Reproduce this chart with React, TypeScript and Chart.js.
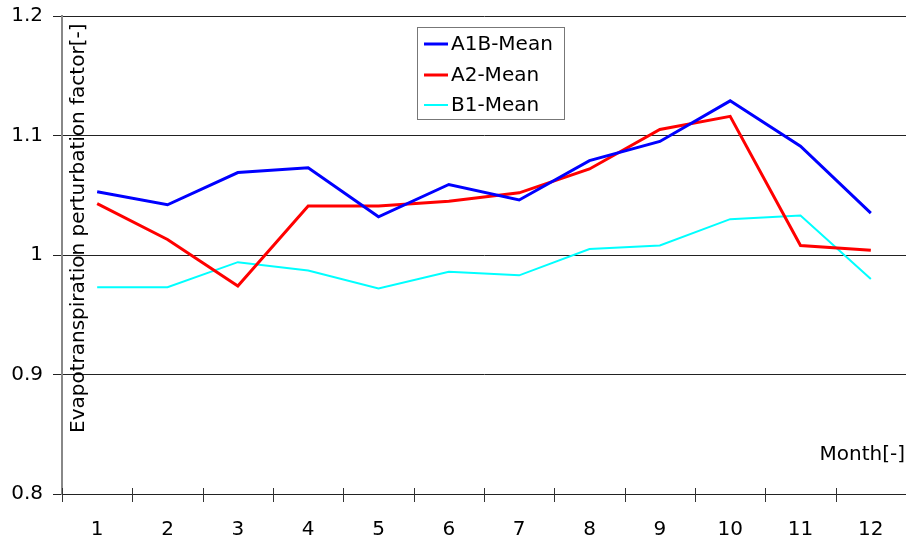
import React, { useEffect, useRef } from "react";
import { Chart, registerables } from "chart.js";

Chart.register(...registerables);

const months = ["1", "2", "3", "4", "5", "6", "7", "8", "9", "10", "11", "12"];
const a1bMean = [1.053, 1.042, 1.069, 1.073, 1.032, 1.059, 1.046, 1.079, 1.095, 1.129, 1.091, 1.035];
const a2Mean = [1.043, 1.013, 0.974, 1.041, 1.041, 1.045, 1.052, 1.072, 1.105, 1.116, 1.008, 1.004];
const b1Mean = [0.973, 0.973, 0.994, 0.987, 0.972, 0.986, 0.983, 1.005, 1.008, 1.03, 1.033, 0.98];
const seriesLabels = ["A1B-Mean", "A2-Mean", "B1-Mean"];
const seriesColors = ["#0000ff", "#ff0000", "#00ffff"];
const yTitle = "Evapotranspiration perturbation factor[-]";
const xTitle = "Month[-]";

const FONT = "'DejaVu Sans', sans-serif";
const FS = 20;

const overlay = {
  id: "overlay",
  afterDraw(chart: any) {
    const ctx = chart.ctx;
    const area = chart.chartArea;
    const xs = chart.scales.x;
    ctx.save();
    // x tick marks at category boundaries
    ctx.strokeStyle = "#333";
    ctx.lineWidth = 1;
    for (let i = 0; i <= months.length; i++) {
      const px = Math.round(xs.getPixelForValue(i - 0.5)) + 0.5;
      ctx.beginPath();
      ctx.moveTo(px, area.bottom - 6);
      ctx.lineTo(px, area.bottom + 8);
      ctx.stroke();
    }
    // titles
    ctx.fillStyle = "#000";
    ctx.font = `${FS}px ${FONT}`;
    ctx.save();
    ctx.translate(area.left + 17, 433);
    ctx.rotate(-Math.PI / 2);
    ctx.textAlign = "left";
    ctx.textBaseline = "middle";
    ctx.fillText(yTitle, 0, 0);
    ctx.restore();
    ctx.textAlign = "right";
    ctx.textBaseline = "middle";
    ctx.fillText(xTitle, area.right - 1, 455);
    // legend
    const bx = 417, by = 27, bw = 147, bh = 92;
    ctx.fillStyle = "#fff";
    ctx.fillRect(bx, by, bw, bh);
    ctx.strokeStyle = "#777";
    ctx.lineWidth = 1;
    ctx.strokeRect(bx + 0.5, by + 0.5, bw, bh);
    const rows = [44, 75, 105];
    chart.data.datasets.forEach((ds: any, i: number) => {
      ctx.strokeStyle = ds.borderColor;
      ctx.lineWidth = ds.borderWidth;
      ctx.beginPath();
      ctx.moveTo(424, rows[i]);
      ctx.lineTo(448, rows[i]);
      ctx.stroke();
      ctx.fillStyle = "#000";
      ctx.textAlign = "left";
      ctx.textBaseline = "middle";
      ctx.fillText(ds.label, 451, rows[i] + 1);
    });
    ctx.restore();
  },
};

export default function App() {
  const ref = useRef<HTMLCanvasElement>(null);
  useEffect(() => {
    document.body.style.margin = "0";
    const canvas = ref.current!;
    const chart = new Chart(canvas, {
      type: "line",
      data: {
        labels: months,
        datasets: [a1bMean, a2Mean, b1Mean].map((d, i) => ({
          label: seriesLabels[i],
          data: d,
          borderColor: seriesColors[i],
          backgroundColor: seriesColors[i],
          borderWidth: i === 2 ? 2 : 3,
          pointRadius: 0,
          tension: 0,
          fill: false,
        })),
      },
      options: {
        responsive: false,
        animation: false,
        devicePixelRatio: 1,
        layout: { padding: { top: 16, left: 0, right: 0, bottom: 0 } },
        plugins: { legend: { display: false }, tooltip: { enabled: false } },
        scales: {
          x: {
            type: "category",
            offset: true,
            grid: { display: true, drawOnChartArea: false, drawTicks: false, color: "transparent" },
            border: { display: true, color: "#222", width: 1 },
            ticks: { color: "#000", font: { family: FONT, size: FS }, padding: 24, maxRotation: 0, autoSkip: false },
            afterFit: (s: any) => { s.height = 47; s.paddingLeft = 0; s.paddingRight = 0; },
          },
          y: {
            min: 0.8,
            max: 1.2,
            grid: { color: "#222", lineWidth: 1, tickLength: 9, drawTicks: true },
            border: { display: true, color: "#888", width: 2 },
            ticks: {
              stepSize: 0.1,
              color: "#000",
              padding: 10,
              font: { family: FONT, size: FS },
              callback: (v: any) => String(Number(Number(v).toFixed(1))),
            },
            afterFit: (s: any) => { s.width = 62; s.paddingTop = 0; s.paddingBottom = 0; },
          },
        },
      },
      plugins: [overlay],
    });
    return () => chart.destroy();
  }, []);
  return <canvas ref={ref} width={906} height={541} style={{ display: "block", width: 906, height: 541 }} />;
}
